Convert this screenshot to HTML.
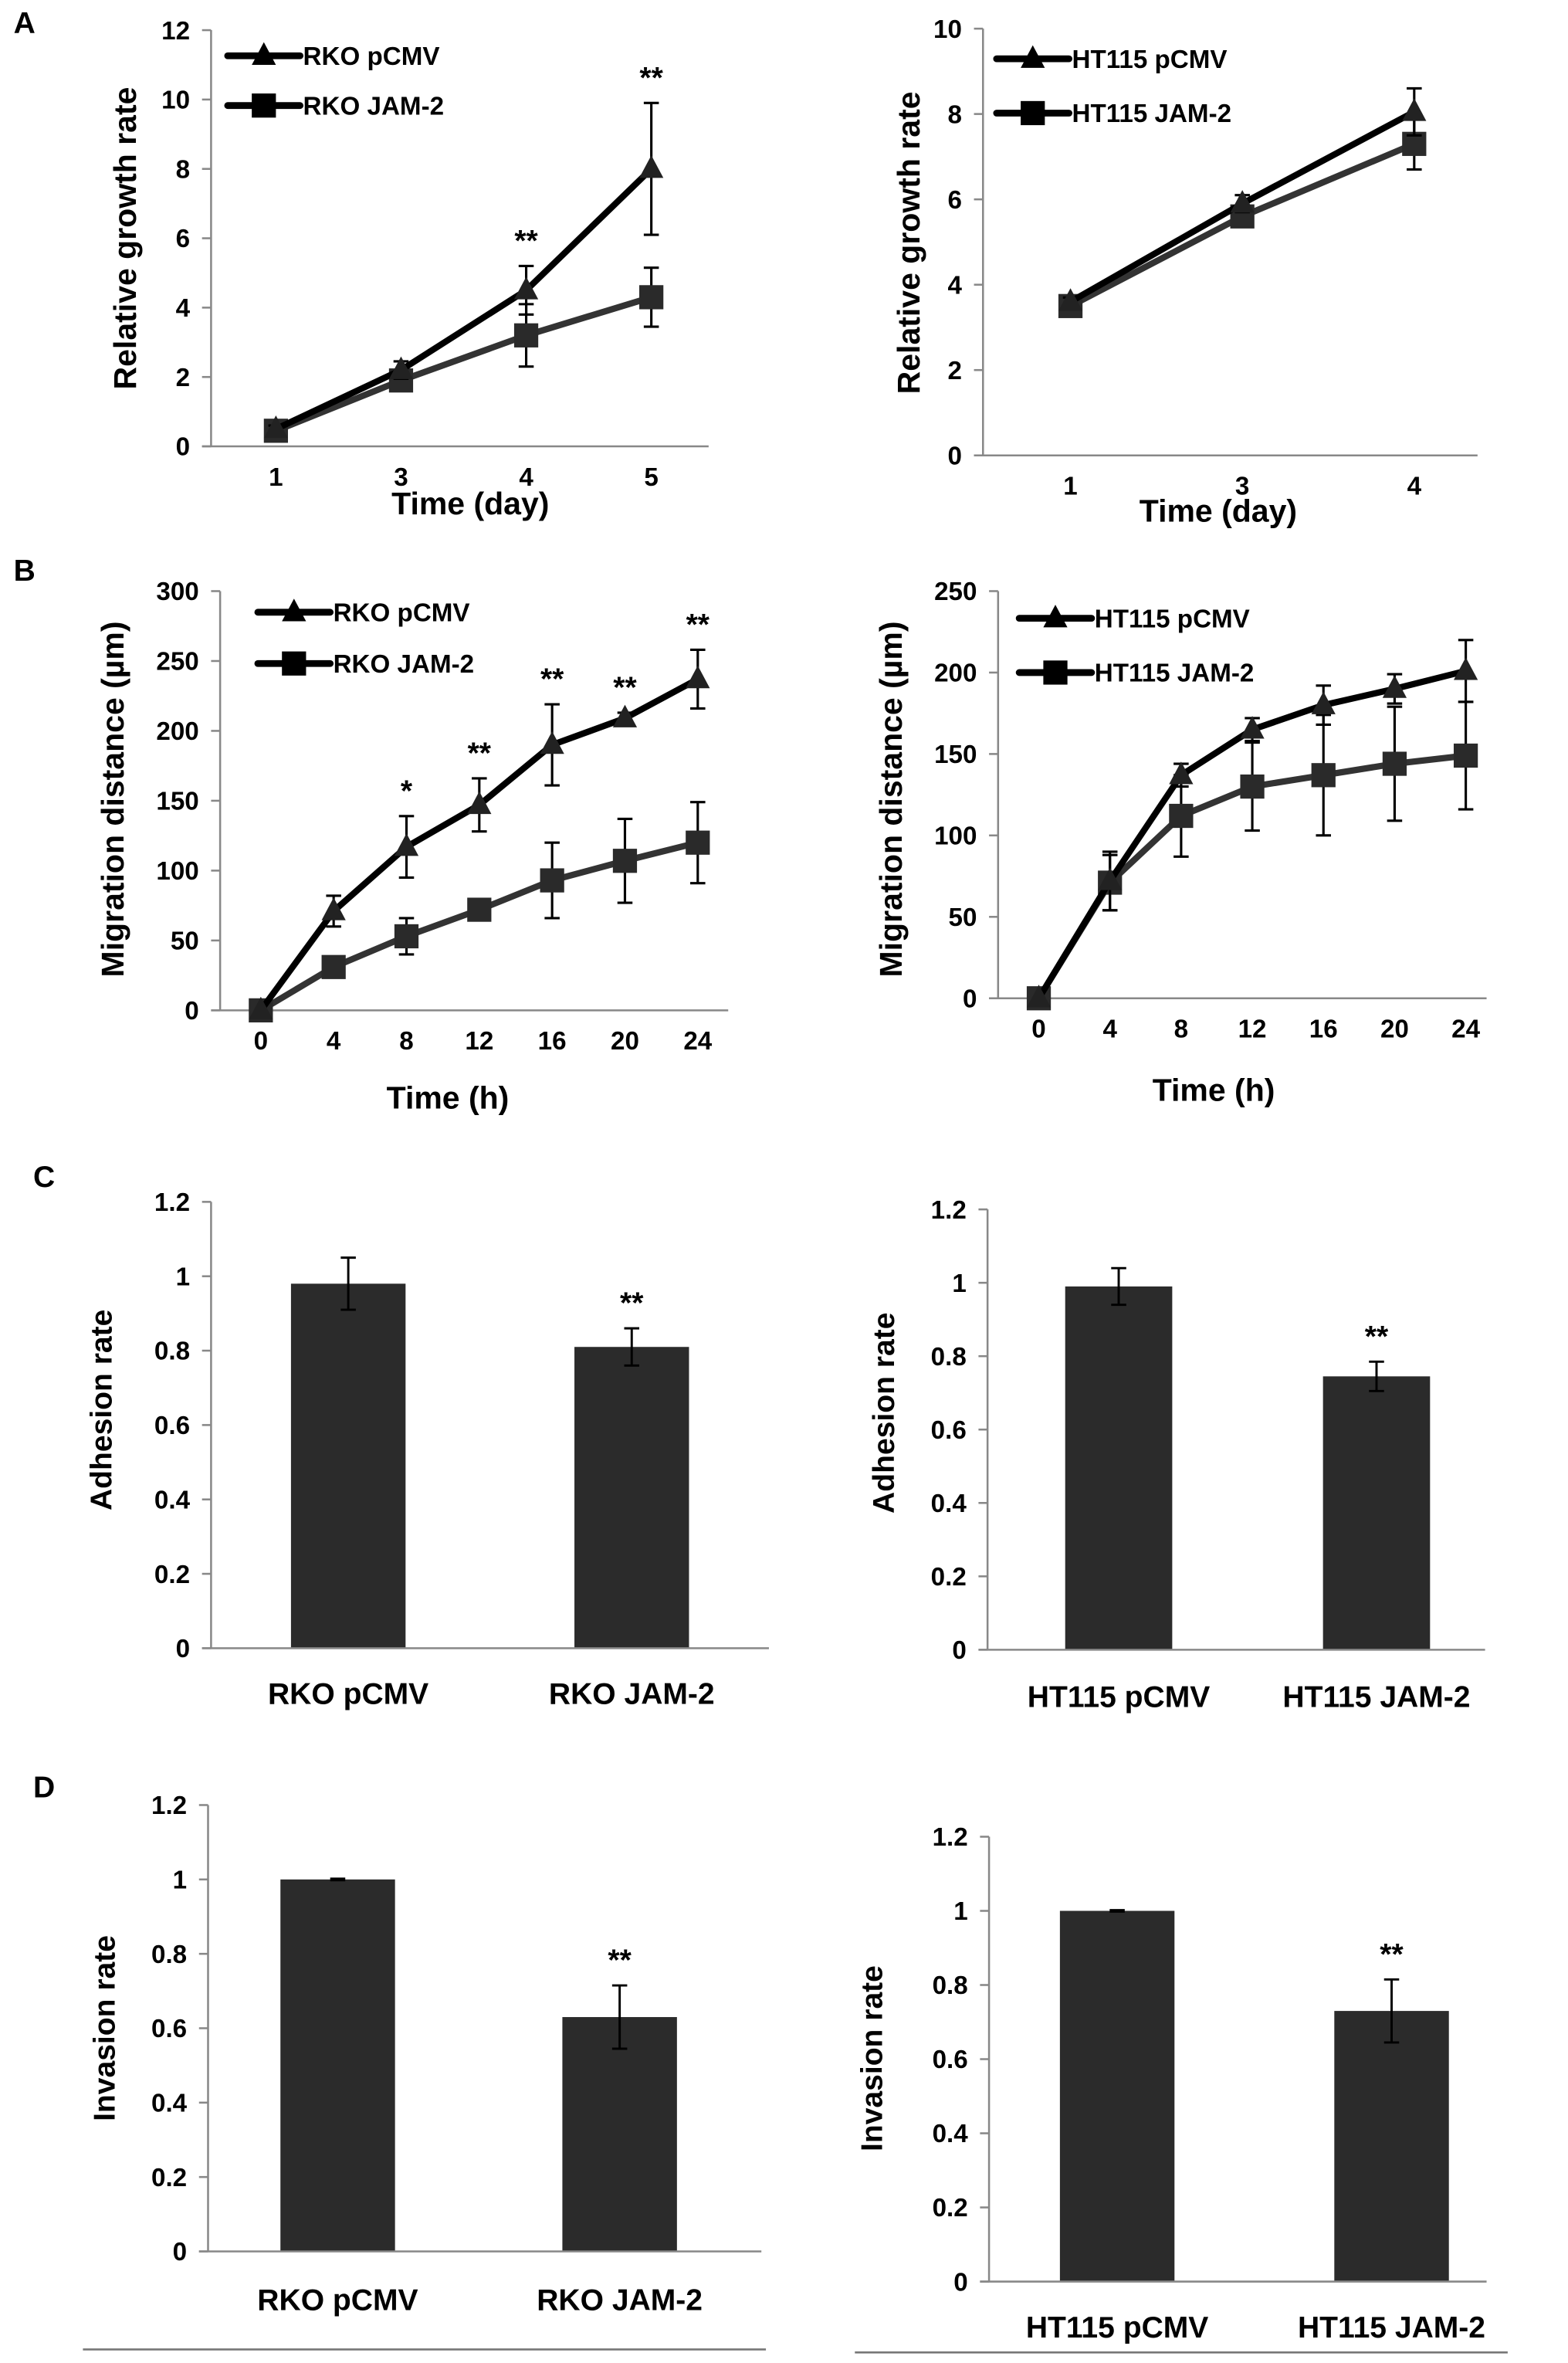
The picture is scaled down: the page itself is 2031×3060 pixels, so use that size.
<!DOCTYPE html>
<html><head><meta charset="utf-8"><style>
html,body{margin:0;padding:0;background:#fff;}
svg{display:block;}
text{font-family:"Liberation Sans Narrow","Liberation Sans",sans-serif;font-weight:bold;fill:#000;}
</style></head><body>
<svg id="fig" width="2031" height="3060" viewBox="0 0 1040 1567" preserveAspectRatio="none" xmlns="http://www.w3.org/2000/svg"></svg>
<script>
// Panel A left
const aLCats=[1,3,4,5];
const aLpcmv=[0.5,2.2,4.5,8.0];
const aLpcmvErr=[0.1,0.25,0.7,1.9];
const aLjam=[0.45,1.9,3.2,4.3];
const aLjamErr=[0.1,0.3,0.9,0.85];
const aLTicks=[0,2,4,6,8,10,12];
const aLStars=["","","**","**"];
// Panel A right
const aRCats=[1,3,4];
const aRpcmv=[3.6,5.9,8.05];
const aRpcmvErr=[0.1,0.2,0.55];
const aRjam=[3.5,5.6,7.3];
const aRjamErr=[0.1,0.15,0.6];
const aRTicks=[0,2,4,6,8,10];
// Panel B left
const bCats=[0,4,8,12,16,20,24];
const bLpcmv=[0,71,117,147,190,209,237];
const bLpcmvErr=[0,11,22,19,29,4,21];
const bLjam=[0,31,53,72,93,107,120];
const bLjamErr=[0,5,13,4,27,30,29];
const bLTicks=[0,50,100,150,200,250,300];
const bLStars=["","","*","**","**","**","**"];
// Panel B right
const bRpcmv=[0,72,137,165,180,190,201];
const bRpcmvErr=[0,18,7,7,12,9,19];
const bRjam=[0,71,112,130,137,144,149];
const bRjamErr=[0,17,25,27,37,35,33];
const bRTicks=[0,50,100,150,200,250];
// Panel C
const cLCats=["RKO pCMV","RKO JAM-2"];
const cLVals=[0.98,0.81];
const cLErr=[0.07,0.05];
const cRCats=["HT115 pCMV","HT115 JAM-2"];
const cRVals=[0.99,0.745];
const cRErr=[0.05,0.04];
const barTicks=[0,0.2,0.4,0.6,0.8,1,1.2];
const barStars=["","**"];
// Panel D
const dLVals=[1.0,0.63];
const dLErr=[0.002,0.085];
const dRVals=[1.0,0.73];
const dRErr=[0.002,0.085];

const NS="http://www.w3.org/2000/svg";
const svg=document.getElementById('fig');
function mk(tag,attrs,parent){const e=document.createElementNS(NS,tag);for(const k in attrs)e.setAttribute(k,attrs[k]);(parent||svg).appendChild(e);return e;}
function txt(s,x,y,size,anchor,parent,rot){const t=mk('text',{x:x,y:y,'font-size':size,'text-anchor':anchor||'middle'},parent);if(rot)t.setAttribute('transform','rotate(-90 '+x+' '+y+')');t.textContent=s;return t;}

function axes(g,c,ticks,tickFmt){
  const ax=mk('line',{x1:c.ax,y1:c.y0,x2:c.ax,y2:c.yTop,stroke:'#888','stroke-width':1.3},g);
  
  
  const bx=mk('line',{x1:c.ax-6,y1:c.y0,x2:c.axEnd,y2:c.y0,stroke:'#888','stroke-width':1.3},g);
  
  
  ticks.forEach(v=>{const y=c.yS(v);
    mk('line',{x1:c.ax-6,y1:y,x2:c.ax,y2:y,stroke:'#888','stroke-width':1.3},g);
    const t=txt(tickFmt?tickFmt(v):String(v),c.ax-14,y+6,17,'end',g);
    
    
  });
}
function yScale(y0,yTop,max){return v=>y0-(v/max)*(y0-yTop);}

function lineChart(name,c,cats,xpos,s1,e1,s2,e2,ticks,stars,leg1,leg2){
  const g=mk('g',{});
  
  
  c.yS=yScale(c.y0,c.yTop,ticks[ticks.length-1]);
  axes(g,c,ticks);
  const xS=i=>xpos(i);
  cats.forEach((v,i)=>{const t=txt(String(v),xS(i),c.y0+26,17,'middle',g);
    
    });
  const series=[[s2,e2,'#333','sq'],[s1,e1,'#000','tri']];
  series.forEach(([s,e,col,m])=>{
    // error bars (upper side mostly; draw both)
    s.forEach((v,i)=>{if(!e[i])return;const x=xS(i);
      const b=mk('path',{d:`M${x},${c.yS(v-e[i])}V${c.yS(v+e[i])}M${x-5},${c.yS(v+e[i])}h10M${x-5},${c.yS(v-e[i])}h10`,stroke:'#000','stroke-width':1.6,fill:'none'},g);
      
      });
    const pts=s.map((v,i)=>xS(i)+','+c.yS(v)).join(' ');
    const pl=mk('polyline',{points:pts,fill:'none',stroke:col,'stroke-width':4.2,'stroke-linejoin':'round'},g);
    
    
    s.forEach((v,i)=>{const x=xS(i),y=c.yS(v);let p;
      if(m==='tri')p=mk('path',{d:`M${x},${y-9}L${x+8},${y+6}L${x-8},${y+6}Z`,fill:'#222'},g);
      else p=mk('rect',{x:x-8,y:y-8,width:16,height:16,fill:'#2a2a2a'},g);
      
      });
  });
  if(stars)stars.forEach((s,i)=>{if(!s)return;const t=txt(s,xS(i),c.yS(s1[i]+e1[i])-10,20,'middle',g);
    
    });
  // legend
  [[leg1,'tri',c.legY1],[leg2,'sq',c.legY2]].forEach(([lab,m,y])=>{
    const lg=mk('g',{},g);
    
    
    mk('line',{x1:c.legX-24,y1:y,x2:c.legX+24,y2:y,stroke:'#000','stroke-width':4.5,'stroke-linecap':'round'},lg);
    if(m==='tri')mk('path',{d:`M${c.legX},${y-9}L${c.legX+8},${y+6}L${c.legX-8},${y+6}Z`,fill:'#000'},lg);
    else mk('rect',{x:c.legX-8,y:y-8,width:16,height:16,fill:'#000'},lg);
    txt(lab,c.legX+26,y+6,17,'start',lg);
  });
  const yt=txt(c.yTitle,c.ytx,c.yty,21,'middle',g,true);
  
  
  const xt=txt(c.xTitle,c.xtx,c.xty,21,'middle',g);
  
  
}

function barChart(name,c,cats,vals,errs,stars,bx,bw){
  const g=mk('g',{});
  
  
  c.yS=yScale(c.y0,c.yTop,1.2);
  vals.forEach((v,i)=>{const x=bx[i];
    const r=mk('rect',{x:x-bw/2,y:c.yS(v),width:bw,height:c.y0-c.yS(v),fill:'#2b2b2b'},g);
    
    
    const e=errs[i];
    const eb=mk('path',{d:`M${x},${c.yS(v-e)}V${c.yS(v+e)}M${x-5},${c.yS(v+e)}h10M${x-5},${c.yS(v-e)}h10`,stroke:'#000','stroke-width':1.5,fill:'none'},g);
    
    
    if(stars[i]){const t=txt(stars[i],x,c.yS(v+e)-10,20,'middle',g);
      
      }
    const l=txt(cats[i],x,c.labY,20,'middle',g);
    
    
  });
  axes(g,c,barTicks,v=>String(v));
  const yt=txt(c.yTitle,c.ytx,c.yty,20,'middle',g,true);
  
  
}

// Panel letters
[['A',9,22],['B',9,385],['C',22,787],['D',22,1192]].forEach(([s,x,y])=>{const t=txt(s,x,y,20,'start');
  
  });

lineChart('growth-chart-rko',{ax:140,axEnd:470,y0:296,yTop:20,legX:175,legY1:37,legY2:70,ytx:90,yty:158,xTitle:'Time (day)',yTitle:'Relative growth rate',xtx:312,xty:341},
  aLCats,i=>[183,266,349,432][i],aLpcmv,aLpcmvErr,aLjam,aLjamErr,aLTicks,aLStars,'RKO pCMV','RKO JAM-2');
lineChart('growth-chart-ht115',{ax:652,axEnd:980,y0:302,yTop:19,legX:685,legY1:39,legY2:75,ytx:610,yty:161,xTitle:'Time (day)',yTitle:'Relative growth rate',xtx:808,xty:346},
  aRCats,i=>[710,824,938][i],aRpcmv,aRpcmvErr,aRjam,aRjamErr,aRTicks,null,'HT115 pCMV','HT115 JAM-2');
lineChart('migration-chart-rko',{ax:146,axEnd:483,y0:670,yTop:392,legX:195,legY1:406,legY2:440,ytx:82,yty:530,xTitle:'Time (h)',yTitle:'Migration distance (µm)',xtx:297,xty:735},
  bCats,i=>173+i*48.3,bLpcmv,bLpcmvErr,bLjam,bLjamErr,bLTicks,bLStars,'RKO pCMV','RKO JAM-2');
lineChart('migration-chart-ht115',{ax:662,axEnd:986,y0:662,yTop:392,legX:700,legY1:410,legY2:446,ytx:598,yty:530,xTitle:'Time (h)',yTitle:'Migration distance (µm)',xtx:805,xty:730},
  bCats,i=>689+i*47.2,bRpcmv,bRpcmvErr,bRjam,bRjamErr,bRTicks,null,'HT115 pCMV','HT115 JAM-2');

barChart('adhesion-chart-rko',{ax:140,axEnd:510,y0:1093,yTop:797,labY:1130,yTitle:'Adhesion rate',ytx:74,yty:935},cLCats,cLVals,cLErr,barStars,[231,419],76);
barChart('adhesion-chart-ht115',{ax:655,axEnd:985,y0:1094,yTop:802,labY:1132,yTitle:'Adhesion rate',ytx:593,yty:937},cRCats,cRVals,cRErr,barStars,[742,913],71);
barChart('invasion-chart-rko',{ax:138,axEnd:505,y0:1493,yTop:1197,labY:1532,yTitle:'Invasion rate',ytx:76,yty:1345},cLCats,dLVals,dLErr,barStars,[224,411],76);
barChart('invasion-chart-ht115',{ax:656,axEnd:986,y0:1513,yTop:1218,labY:1550,yTitle:'Invasion rate',ytx:585,yty:1365},cRCats,dRVals,dRErr,barStars,[741,923],76);

[[55,508,1558],[567,1000,1560]].forEach(([a,b,y])=>{const l=mk('line',{x1:a,y1:y,x2:b,y2:y,stroke:'#777','stroke-width':1.3});
  
  });
</script>
</body></html>
